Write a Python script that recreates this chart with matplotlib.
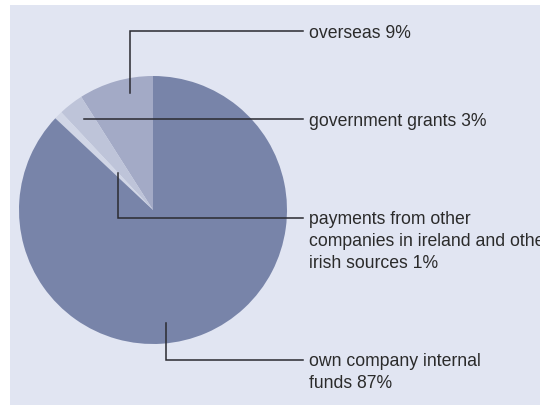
import numpy as np
import matplotlib
matplotlib.use("Agg")
import matplotlib.pyplot as plt
from matplotlib.patches import Rectangle

# Sources of funding (percent)
labels = [
    "overseas 9%",
    "government grants 3%",
    "payments from other\ncompanies in ireland and other\nirish sources 1%",
    "own company internal\nfunds 87%",
]
shares = [9, 3, 1, 87]
colors = ["#A3AAC6", "#BEC4D9", "#D1D6E6", "#7884A9"]

# Leader-line layout: anchor inside each wedge (fraction along wedge, radius fraction)
anchor_t = [0.34, 0.44, 0.10, 0.446]
anchor_r = [0.89, 0.85, 0.38, 0.85]
label_y_px = [31, 119, 218, 360]   # height of the horizontal leader, from top

W, H = 540, 405
fig = plt.figure(figsize=(W / 100, H / 100), dpi=100)
fig.patch.set_facecolor("white")
ax = fig.add_axes([0, 0, 1, 1])
ax.set_axis_off()

# Panel background
ax.add_patch(Rectangle((10, 0), W - 10, H - 5, facecolor="#E1E5F2",
                       edgecolor="none", zorder=0))

cx, cy, R = 153, H - 210, 134
wedges, _ = ax.pie(shares, colors=colors, startangle=90, counterclock=True,
                   center=(cx, cy), radius=R,
                   wedgeprops=dict(linewidth=0, antialiased=True))
for w in wedges:
    w.set_zorder(1)

ax.set_xlim(0, W)
ax.set_ylim(0, H)
ax.set_aspect("equal")

line_end_x = 303
text_x = 309
lc = "#2A2A30"
for w, lab, t, rf, ly in zip(wedges, labels, anchor_t, anchor_r, label_y_px):
    ang = np.deg2rad(w.theta1 + t * (w.theta2 - w.theta1))
    ax_ = cx + rf * R * np.cos(ang)
    ay_ = cy + rf * R * np.sin(ang)
    yl = H - ly
    ax.plot([ax_, ax_, line_end_x], [ay_, yl, yl], color=lc, lw=1.1,
            solid_joinstyle="miter", zorder=3)
    ax.text(text_x, yl + 6.5, lab, ha="left", va="top",
            family=["Liberation Sans", "DejaVu Sans"], fontsize=12.7,
            color="#2B2B2B", linespacing=1.37, zorder=4)

fig.savefig("out.png", dpi=100)
